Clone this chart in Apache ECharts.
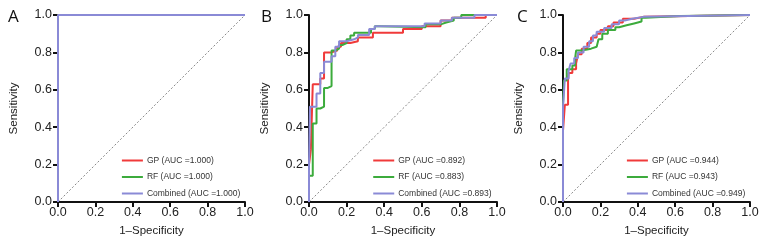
<!DOCTYPE html>
<html>
<head>
<meta charset="utf-8">
<script src="https://cdn.jsdelivr.net/npm/echarts@6/dist/echarts.min.js"></script>
<style>
  html, body { margin: 0; padding: 0; background: #fff; }
  #chart { width: 770px; height: 247px; }
</style>
</head>
<body>
<div id="chart"></div>
<script>
// model names and AUC text per panel
let models = ['GP', 'RF', 'Combined'];
let aucA = ['1.000', '1.000', '1.000'];
let aucB = ['0.892', '0.883', '0.893'];
let aucC = ['0.944', '0.943', '0.949'];
let panelLetters = ['A', 'B', 'C'];
let colors = ['#f03a3a', '#3cab3c', '#8a8ad6'];

// ROC points [1-specificity, sensitivity]
let gpA = [[0, 0], [0, 1], [1, 1]];
let rfA = [[0, 0], [0, 1], [1, 1]];
let combA = [[0, 0], [0, 1], [1, 1]];

let gpB = [[0, 0], [0, 0.2], [0.01, 0.2], [0.01, 0.28], [0.02, 0.28], [0.02, 0.63], [0.06, 0.63], [0.06, 0.66],
  [0.08, 0.66], [0.08, 0.8], [0.12, 0.8], [0.12, 0.81], [0.15, 0.81], [0.15, 0.83], [0.17, 0.83], [0.17, 0.85],
  [0.22, 0.85], [0.22, 0.86], [0.26, 0.86], [0.26, 0.88], [0.34, 0.88], [0.34, 0.905], [0.5, 0.905], [0.5, 0.925],
  [0.6, 0.925], [0.6, 0.94], [0.7, 0.94], [0.7, 0.97], [0.76, 0.97], [0.76, 0.985], [0.94, 0.985], [0.94, 1], [1, 1]];
let rfB = [[0, 0], [0, 0.14], [0.02, 0.14], [0.02, 0.42], [0.04, 0.42], [0.04, 0.5], [0.06, 0.5], [0.06, 0.51],
  [0.08, 0.51], [0.08, 0.61], [0.1, 0.61], [0.1, 0.62], [0.12, 0.62], [0.12, 0.81], [0.14, 0.81], [0.14, 0.82],
  [0.16, 0.82], [0.16, 0.84], [0.18, 0.84], [0.18, 0.85], [0.2, 0.85], [0.2, 0.87], [0.22, 0.87], [0.22, 0.89],
  [0.24, 0.89], [0.24, 0.905], [0.33, 0.905], [0.33, 0.925], [0.35, 0.925], [0.35, 0.94], [0.38, 0.94], [0.38, 0.935],
  [0.62, 0.935], [0.62, 0.95], [0.7, 0.95], [0.7, 0.96], [0.73, 0.96], [0.73, 0.97], [0.77, 0.97], [0.77, 0.985],
  [0.81, 0.985], [0.81, 1], [1, 1]];
let combB = [[0, 0], [0, 0.2], [0.005, 0.2], [0.005, 0.51], [0.04, 0.51], [0.04, 0.58], [0.06, 0.58], [0.06, 0.69],
  [0.08, 0.69], [0.08, 0.75], [0.12, 0.75], [0.12, 0.78], [0.14, 0.78], [0.14, 0.83], [0.16, 0.83], [0.16, 0.86],
  [0.2, 0.86], [0.2, 0.87], [0.24, 0.87], [0.24, 0.88], [0.26, 0.88], [0.26, 0.893], [0.32, 0.893], [0.32, 0.925],
  [0.35, 0.925], [0.35, 0.94], [0.615, 0.94], [0.615, 0.955], [0.7, 0.955], [0.7, 0.97], [0.76, 0.97], [0.76, 0.985],
  [0.88, 0.985], [0.88, 1], [1, 1]];

let gpC = [[0, 0], [0, 0.38], [0.01, 0.38], [0.01, 0.52], [0.027, 0.52], [0.027, 0.65], [0.03, 0.65], [0.03, 0.69],
  [0.05, 0.69], [0.05, 0.71], [0.07, 0.71], [0.07, 0.74], [0.08, 0.74], [0.08, 0.79], [0.1, 0.79], [0.1, 0.82],
  [0.13, 0.82], [0.13, 0.85], [0.15, 0.85], [0.15, 0.88], [0.18, 0.88], [0.18, 0.9], [0.2, 0.9], [0.2, 0.92],
  [0.24, 0.92], [0.24, 0.94], [0.27, 0.94], [0.27, 0.96], [0.32, 0.96], [0.32, 0.98], [0.38, 0.98], [0.38, 0.99],
  [0.43, 0.99], [0.43, 1], [1, 1]];
let rfC = [[0, 0], [0, 0.52], [0.005, 0.52], [0.005, 0.65], [0.02, 0.65], [0.02, 0.71], [0.05, 0.71], [0.05, 0.73],
  [0.065, 0.73], [0.065, 0.77], [0.07, 0.77], [0.07, 0.81], [0.1, 0.81], [0.1, 0.82], [0.15, 0.82], [0.15, 0.83],
  [0.18, 0.83], [0.18, 0.84], [0.19, 0.84], [0.19, 0.87], [0.21, 0.87], [0.21, 0.9], [0.24, 0.9], [0.24, 0.92],
  [0.28, 0.92], [0.28, 0.935], [0.3, 0.935], [0.3, 0.945], [0.34, 0.945], [0.34, 0.955], [0.38, 0.955], [0.38, 0.965],
  [0.42, 0.965], [0.42, 0.985], [0.44, 0.985], [0.44, 0.995], [0.63, 0.995], [0.63, 1], [1, 1]];
let combC = [[0, 0], [0, 0.51], [0.01, 0.51], [0.01, 0.66], [0.03, 0.66], [0.03, 0.7], [0.04, 0.7], [0.04, 0.74],
  [0.06, 0.74], [0.06, 0.77], [0.08, 0.77], [0.08, 0.8], [0.11, 0.8], [0.11, 0.83], [0.14, 0.83], [0.14, 0.86],
  [0.16, 0.86], [0.16, 0.89], [0.18, 0.89], [0.18, 0.91], [0.22, 0.91], [0.22, 0.93], [0.26, 0.93], [0.26, 0.95],
  [0.3, 0.95], [0.3, 0.97], [0.33, 0.97], [0.33, 0.98], [0.37, 0.98], [0.37, 0.99], [0.43, 0.99], [0.43, 1], [1, 1]];

let diagonal = [[0, 0], [1, 1]];

let panels = [
  { auc: aucA, curves: [gpA, rfA, combA], left: 58, width: 187 },
  { auc: aucB, curves: [gpB, rfB, combB], left: 309, width: 188 },
  { auc: aucC, curves: [gpC, rfC, combC], left: 563, width: 187 }
];

let font = '"Liberation Sans", Arial, sans-serif';

let grids = [], xAxes = [], yAxes = [], series = [], legends = [], titles = [];

panels.forEach(function (p, i) {
  grids.push({ left: p.left, top: 15, width: p.width, height: 187 });
  let axisCommon = {
    type: 'value', min: 0, max: 1, interval: 0.2, gridIndex: i,
    splitLine: { show: false },
    axisLine: { show: true, lineStyle: { color: '#111', width: 2 } },
    axisTick: { show: true, length: 5, lineStyle: { color: '#111', width: 2 } },
    axisLabel: { color: '#222', fontSize: 12.5, fontFamily: font, formatter: function (v) { return v.toFixed(1); } },
    nameLocation: 'middle',
    nameTextStyle: { color: '#222', fontSize: 11.5, fontFamily: font }
  };
  xAxes.push(Object.assign({}, axisCommon, {
    name: '1\u2013Specificity', nameGap: 23,
    axisLabel: Object.assign({}, axisCommon.axisLabel, { margin: 4 })
  }));
  yAxes.push(Object.assign({}, axisCommon, {
    name: 'Sensitivity', nameGap: 38,
    axisLabel: Object.assign({}, axisCommon.axisLabel, { margin: 6 })
  }));

  series.push({
    type: 'line', xAxisIndex: i, yAxisIndex: i, data: diagonal, showSymbol: false, silent: true,
    lineStyle: { color: '#555', width: 0.7, type: [2, 2] }, z: 1
  });
  let names = [];
  models.forEach(function (m, k) {
    let name = m + ' (AUC =' + p.auc[k] + ')';
    names.push(name);
    series.push({
      name: name, type: 'line', xAxisIndex: i, yAxisIndex: i, data: p.curves[k],
      showSymbol: false, clip: false, color: colors[k],
      lineStyle: { color: colors[k], width: 2 }, z: 2 + k
    });
  });
  legends.push({
    data: names, orient: 'vertical', left: p.left + 0.315 * p.width, top: 150,
    icon: 'rect', itemWidth: 21, itemHeight: 2, itemGap: 5.5,
    textStyle: { fontSize: 8.5, fontFamily: font, color: '#333', lineHeight: 11, padding: [0, 0, 0, -1] },
    selectedMode: false
  });
  titles.push({
    text: panelLetters[i], left: [3, 256, 512][i], top: 4,
    textStyle: { fontSize: 17, fontWeight: 'normal', fontFamily: '"Open Sans", sans-serif', color: '#111' }
  });
});

let chart = echarts.init(document.getElementById('chart'));
chart.setOption({
  animation: false,
  title: titles,
  grid: grids,
  xAxis: xAxes,
  yAxis: yAxes,
  legend: legends,
  series: series
});
</script>
</body>
</html>
